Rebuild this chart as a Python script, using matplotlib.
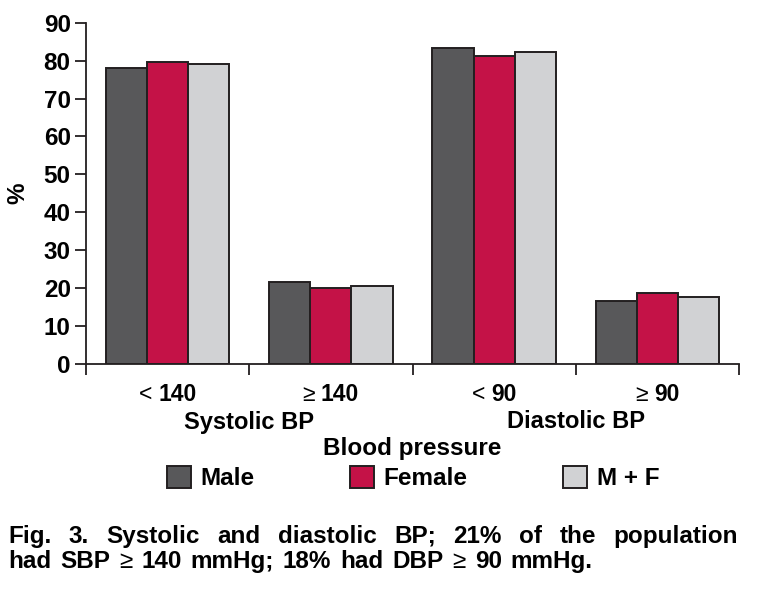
import numpy as np
import matplotlib
matplotlib.use('Agg')
import matplotlib.pyplot as plt
from matplotlib.patches import Patch

plt.rcParams['font.family'] = ['Liberation Sans', 'DejaVu Sans']
plt.rcParams['font.weight'] = 'bold'

# data
categories = [('<', '140'), ('\u2265', '140'), ('<', '90'), ('\u2265', '90')]
groups = ['Systolic BP', 'Diastolic BP']
series = ['Male', 'Female', 'M + F']
male = [78.0, 21.6, 83.2, 16.5]
female = [79.6, 20.0, 81.2, 18.6]
both = [79.0, 20.5, 82.2, 17.7]
colors = ['#58585a', '#c41247', '#d1d2d4']
edge = '#231f20'

W, H = 757, 597
fig = plt.figure(figsize=(W / 100, H / 100), dpi=100)
ax = fig.add_axes([86 / W, 1 - 364 / H, (739 - 86) / W, (364 - 22.7) / H])
renderer = fig.canvas.get_renderer()


def draw_pieces(pieces, xpix, ypix, size, gap, ha='left'):
    # pieces: list of (text, weight); coordinates in pixels from top-left
    texts = [fig.text(0, 0, s, fontsize=size, fontweight=w, va='baseline') for s, w in pieces]
    widths = [t.get_window_extent(renderer).width for t in texts]
    total = sum(widths) + gap * (len(texts) - 1)
    if ha == 'center':
        xpix -= total / 2
    for t, w in zip(texts, widths):
        t.set_position((xpix / W, 1 - ypix / H))
        xpix += w + gap


x = np.arange(len(categories)) + 0.5
width = 0.252
for i, (vals, c) in enumerate(zip([male, female, both], colors)):
    ax.bar(x + (i - 1) * width, vals, width, color=c, edgecolor=edge, linewidth=1.4)

ax.set_xlim(0, 4)
ax.set_ylim(0, 90)
ax.spines['top'].set_visible(False)
ax.spines['right'].set_visible(False)
for s in ['left', 'bottom']:
    ax.spines[s].set_linewidth(1.3)
    ax.spines[s].set_color(edge)

ax.set_yticks(range(0, 91, 10))
ax.tick_params(axis='y', labelsize=17.5, length=8, width=1.3, pad=3, color=edge)
ax.set_xticks(range(5))
ax.set_xticklabels([])
ax.tick_params(axis='x', which='major', length=8, width=1.3, color=edge)
for lab in ax.get_yticklabels():
    lab.set_fontweight('bold')

ax.set_ylabel('%', fontsize=17.5, fontweight='bold', labelpad=10)

# category labels: thin relation sign + bold number
for (sym, num), cx in zip(categories, x):
    px = ax.transData.transform((cx, 0))[0]
    draw_pieces([(sym, 'normal'), (num, 'bold')], px, 401, 16.5, 6, ha='center')

# group labels and axis title
for g, gx in zip(groups, [1, 3]):
    px = ax.transData.transform((gx, 0))[0]
    fig.text(px / W, 1 - 422 / H, g, ha='center', va='center', fontsize=17, fontweight='bold')
fig.text(412.5 / W, 1 - 449 / H, 'Blood pressure', ha='center', va='center',
         fontsize=17.5, fontweight='bold')

handles = [Patch(facecolor=c, edgecolor=edge, linewidth=1.4) for c in colors]
fig.legend(handles, series, loc='center', bbox_to_anchor=(413 / W, 1 - 478 / H), ncol=3,
           frameon=False, fontsize=17.5, handlelength=1.0, handleheight=1.05,
           handletextpad=0.4, columnspacing=3.9, borderpad=0)

# caption: first line justified, second line with the same loose word spacing
cap_size = 17.5
line1 = [(w, 'bold') for w in 'Fig. 3. Systolic and diastolic BP; 21% of the population'.split()]
line2 = [(w, 'normal' if w == '\u2265' else 'bold')
         for w in 'had SBP \u2265 140 mmHg; 18% had DBP \u2265 90 mmHg.'.split()]
probe = [fig.text(0, 0, s, fontsize=cap_size, fontweight=w) for s, w in line1]
used = sum(t.get_window_extent(renderer).width for t in probe)
for t in probe:
    t.remove()
x0, x1 = 8, 738
gap = (x1 - x0 - used) / (len(line1) - 1)
draw_pieces(line1, x0, 543, cap_size, gap)
draw_pieces(line2, x0, 568, cap_size, 9)

fig.savefig('out.png', dpi=100)
